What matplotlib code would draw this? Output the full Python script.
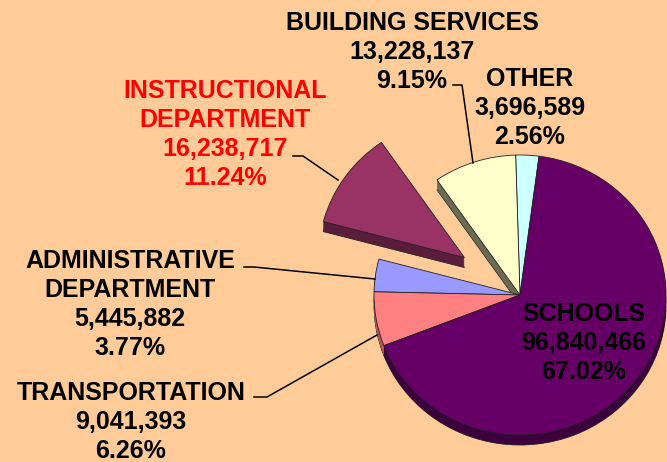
import matplotlib
matplotlib.use('Agg')
import matplotlib.pyplot as plt
from matplotlib import font_manager

# ---- data ----
categories = ['OTHER', 'BUILDING SERVICES', 'INSTRUCTIONAL\nDEPARTMENT',
              'ADMINISTRATIVE\nDEPARTMENT', 'TRANSPORTATION', 'SCHOOLS']
amounts = [3696589, 13228137, 16238717, 5445882, 9041393, 96840466]
percents = [2.56, 9.15, 11.24, 3.77, 6.26, 67.02]

# ---- style ----
top_colors = ['#CCFFFF', '#FFFFCC', '#993366', '#9999FF', '#FF8080', '#660066']
side_colors = ['#86a8a8', '#6b6b52', '#5a1d3c', '#6464a8', '#b05858', '#3c003c']
explode = [0, 0, 0.465, 0, 0, 0]
label_colors = ['black', 'black', '#FF0000', 'black', 'black', 'black']
bg = '#FFCC99'

names = [f.name for f in font_manager.fontManager.ttflist]
family = 'Liberation Sans Narrow' if 'Liberation Sans Narrow' in names else 'Liberation Sans'
fsize = 18

W, H = 667, 462
fig = plt.figure(figsize=(W / 100, H / 100), dpi=100)
fig.patch.set_facecolor(bg)
ax = fig.add_axes([0, 0, 1, 1])
ax.set_facecolor(bg)

cx, cy = 520, 295      # pie centre in pixels
rx, ry = 146, 140      # radii in pixels
depth = 10 / ry
nlayers = 14
for i in range(nlayers, 0, -1):
    off = depth * i / nlayers
    ax.pie(amounts, explode=explode, colors=side_colors, startangle=82.5,
           counterclock=True, center=(0, -off), radius=1,
           wedgeprops=dict(linewidth=0.6 if i == nlayers else 0,
                           edgecolor='#222222'))
ax.pie(amounts, explode=explode, colors=top_colors, startangle=82.5,
       counterclock=True, center=(0, 0), radius=1,
       wedgeprops=dict(linewidth=0.6, edgecolor='#222222'))

ax.set_aspect('auto')
ax.set_xlim(-cx / rx, (W - cx) / rx)
ax.set_ylim(-(H - cy) / ry, cy / ry)
ax.axis('off')

# ---- labels (line centres in pixels) ----
label_x = [530, 412, 225, 130, 131, 584]
label_y0 = [77, 21, 89, 259, 391, 312]
pitch = 28.9
for k in range(len(categories)):
    lines = categories[k].split('\n') + [f'{amounts[k]:,}', f'{percents[k]:.2f}%']
    for j, line in enumerate(lines):
        py = label_y0[k] + j * pitch + 9
        ax.text(label_x[k] / W, 1 - py / H, line, transform=ax.transAxes,
                ha='center', va='baseline', fontsize=fsize, fontweight='bold',
                family=family, color=label_colors[k])

# ---- leader lines (pixels) ----
leaders = [
    [(453, 85), (462, 85), (473, 163)],
    [(293, 156), (303, 156), (338, 180)],
    [(244, 267), (254, 267), (375, 279)],
    [(254, 397), (267, 397), (377, 335)],
]
for pts in leaders:
    xs = [p[0] / W for p in pts]
    ys = [1 - p[1] / H for p in pts]
    ax.plot(xs, ys, transform=ax.transAxes, color='black', lw=1.1)

fig.savefig('out.png', dpi=100, facecolor=bg)
